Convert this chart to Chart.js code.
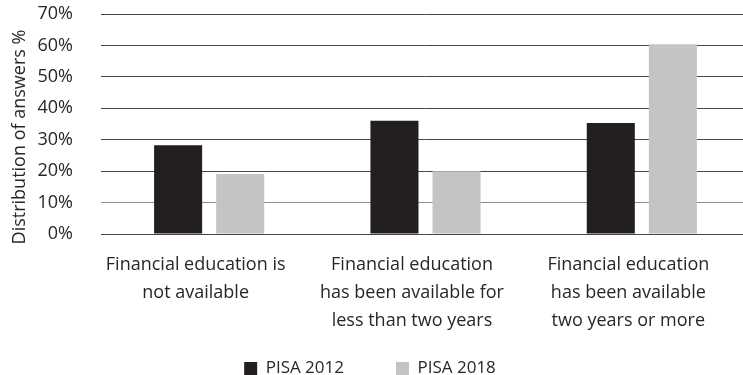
<!DOCTYPE html>
<html>
<head>
<meta charset="utf-8">
<script src="https://cdn.jsdelivr.net/npm/chart.js@4/dist/chart.umd.min.js"></script>
<style>
  html, body { margin: 0; padding: 0; background: #ffffff; overflow: hidden; }
  #wrap { width: 750px; height: 375px; }
</style>
</head>
<body>
<div id="wrap"><canvas id="chart" width="750" height="375"></canvas></div>
<script>
// Categories (multi-line labels) and the two survey waves
const categories = [
  ['Financial education is', 'not available'],
  ['Financial education', 'has been available for', 'less than two years'],
  ['Financial education', 'has been available', 'two years or more']
];
const pisa2012 = [28.2, 36.0, 35.3];
const pisa2018 = [19.1, 20.0, 60.4];
const yTicks = [0, 10, 20, 30, 40, 50, 60, 70];

const FONT = '"Open Sans", sans-serif';
const INK = '#2a2627';

// Legend band: fixed height, row moved up into the gap under the labels;
// y-axis title drawn slightly below the axis centre
const placement = {
  id: 'placement',
  beforeLayout(chart) {
    const lg = chart.legend;
    if (lg && !lg._fixedFit) {
      const fit = lg.fit;
      lg.fit = function () { fit.call(this); this.height = 41; };
      lg._fixedFit = true;
    }
  },
  afterLayout(chart) {
    const lg = chart.legend;
    if (lg) {
      lg.left -= 5; lg.right -= 5;
      lg.top -= 26;
      lg.height = lg.bottom - lg.top;
    }
    const y = chart.scales.y;
    if (y && !y._shiftedTitle) {
      const drawTitle = y.drawTitle;
      y.drawTitle = function () {
        this.ctx.save();
        this.ctx.translate(0, 13);
        drawTitle.call(this);
        this.ctx.restore();
      };
      y._shiftedTitle = true;
    }
  }
};

new Chart(document.getElementById('chart'), {
  type: 'bar',
  data: {
    labels: categories,
    datasets: [
      { label: 'PISA 2012', data: pisa2012, backgroundColor: '#231f20',
        categoryPercentage: 0.574, barPercentage: 0.774 },
      { label: 'PISA 2018', data: pisa2018, backgroundColor: '#c3c4c6',
        categoryPercentage: 0.574, barPercentage: 0.774 }
    ]
  },
  plugins: [placement],
  options: {
    responsive: false,
    animation: false,
    layout: { padding: { top: 14, right: 0, bottom: 0, left: 0 } },
    plugins: {
      tooltip: { enabled: false },
      legend: {
        position: 'bottom',
        labels: {
          boxWidth: 13, boxHeight: 13, padding: 52,
          color: INK, font: { family: FONT, size: 17 }
        }
      }
    },
    scales: {
      x: {
        afterFit: (axis) => { axis.height = 100; },
        grid: { display: false, drawTicks: false },
        border: { display: false },
        ticks: {
          color: INK, padding: 17, labelOffset: -13.5, maxRotation: 0, autoSkip: false,
          font: { family: FONT, size: 18, lineHeight: 1.55 }
        }
      },
      y: {
        min: 0, max: 70,
        afterFit: (axis) => { axis.width = 101; axis.paddingTop = 0; axis.paddingBottom = 0; },
        afterBuildTicks: (axis) => { axis.ticks = yTicks.map(v => ({ value: v })); },
        grid: {
          color: (ctx) => (ctx.tick && ctx.tick.value === 10 ? '#8c8c8c' : '#474747'),
          lineWidth: 1, drawTicks: false
        },
        border: { display: false },
        ticks: {
          color: INK, padding: 28,
          font: { family: FONT, size: 18 },
          callback: (v) => v + '%'
        },
        title: {
          display: true, text: 'Distribution of answers %',
          color: INK, font: { family: FONT, size: 18 }, padding: { top: 9, bottom: 0 }
        }
      }
    }
  }
});
</script>
</body>
</html>
